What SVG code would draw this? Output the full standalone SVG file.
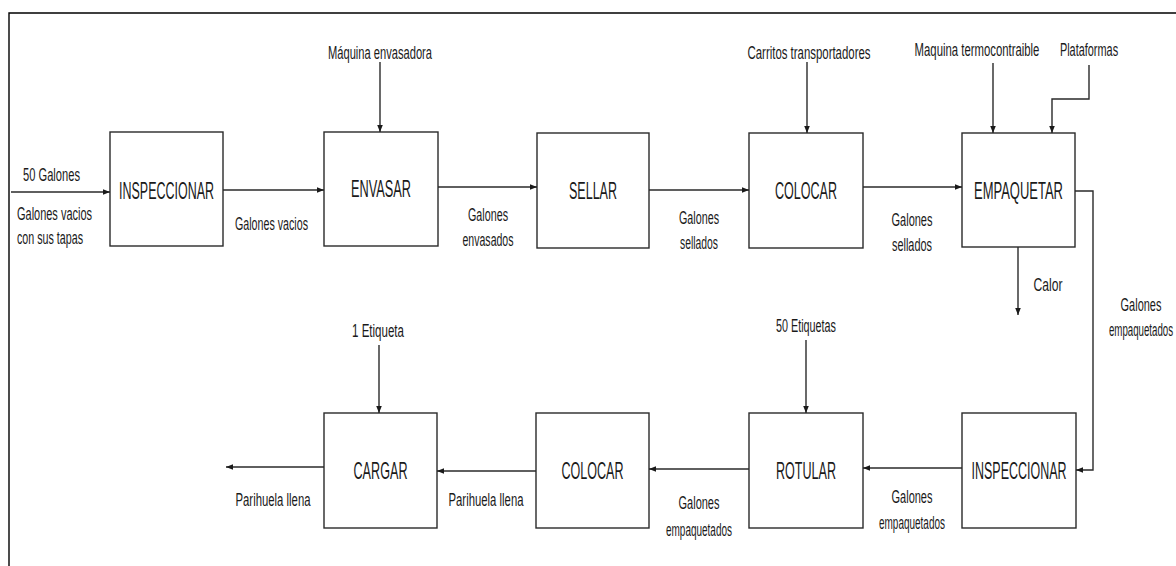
<svg xmlns="http://www.w3.org/2000/svg" width="1176" height="566" viewBox="0 0 1176 566">
<style>
.box{fill:#fff;stroke:#2a2a2a;stroke-width:1.4}
.frame{fill:none;stroke:#000;stroke-width:1.4}
.con{fill:none;stroke:#2a2a2a;stroke-width:1.4;marker-end:url(#ah)}
.t{font-family:"Liberation Sans",Arial,sans-serif;font-size:24px;fill:#1a1a1a;text-anchor:middle}
.s{font-family:"Liberation Sans",Arial,sans-serif;font-size:17.5px;fill:#1a1a1a;text-anchor:middle}
</style>
<defs>
<marker id="ah" viewBox="0 0 8 8" refX="8" refY="4" markerWidth="7" markerHeight="7" markerUnits="userSpaceOnUse" orient="auto">
<path d="M0,0.8 L8,4 L0,7.2 z" fill="#1a1a1a"/>
</marker>
</defs>
<rect width="1176" height="566" fill="#fff"/>
<path class="frame" d="M9,566 V13 H1176"/>

<g id="n_inspeccionar1"><rect class="box" x="110" y="132" width="113" height="114"/><text class="t" x="166.5" y="198.5" textLength="95" lengthAdjust="spacingAndGlyphs">INSPECCIONAR</text></g>
<g id="n_envasar"><rect class="box" x="324" y="132" width="114" height="114"/><text class="t" x="381" y="196.5" textLength="60" lengthAdjust="spacingAndGlyphs">ENVASAR</text></g>
<g id="n_sellar"><rect class="box" x="537" y="133" width="112" height="115"/><text class="t" x="593" y="198.5" textLength="48" lengthAdjust="spacingAndGlyphs">SELLAR</text></g>
<g id="n_colocar1"><rect class="box" x="749" y="133" width="114" height="115"/><text class="t" x="806" y="198.5" textLength="62" lengthAdjust="spacingAndGlyphs">COLOCAR</text></g>
<g id="n_empaquetar"><rect class="box" x="962" y="133" width="113" height="114"/><text class="t" x="1018.5" y="198.5" textLength="89" lengthAdjust="spacingAndGlyphs">EMPAQUETAR</text></g>
<g id="n_cargar"><rect class="box" x="324" y="413" width="113" height="115"/><text class="t" x="380.5" y="478.5" textLength="54" lengthAdjust="spacingAndGlyphs">CARGAR</text></g>
<g id="n_colocar2"><rect class="box" x="536" y="413" width="113" height="115"/><text class="t" x="592.5" y="478.5" textLength="62" lengthAdjust="spacingAndGlyphs">COLOCAR</text></g>
<g id="n_rotular"><rect class="box" x="749" y="413" width="114" height="115"/><text class="t" x="806" y="478.5" textLength="60" lengthAdjust="spacingAndGlyphs">ROTULAR</text></g>
<g id="n_inspeccionar2"><rect class="box" x="962" y="413" width="114" height="115"/><text class="t" x="1019" y="478.5" textLength="95" lengthAdjust="spacingAndGlyphs">INSPECCIONAR</text></g>

<g id="connectors">
<path class="con" d="M11,192 H110"/>
<path class="con" d="M223,190 H324"/>
<path class="con" d="M380,62 V132"/>
<path class="con" d="M438,187 H537"/>
<path class="con" d="M649,190 H749"/>
<path class="con" d="M807,62 V133"/>
<path class="con" d="M863,187 H962"/>
<path class="con" d="M993,63 V133"/>
<path class="con" d="M1089,65 V99 H1052 V133"/>
<path class="con" d="M1075,191 H1093 V470 H1076"/>
<path class="con" d="M1018,247 V315"/>
<path class="con" d="M962,468 H863"/>
<path class="con" d="M806,340 V413"/>
<path class="con" d="M749,469 H649"/>
<path class="con" d="M536,471 H437"/>
<path class="con" d="M379,345 V413"/>
<path class="con" d="M324,467 H226"/>
</g>

<g id="labels">
<text class="s" x="51.5" y="181" textLength="57" lengthAdjust="spacingAndGlyphs">50 Galones</text>
<text class="s" x="54.5" y="220" textLength="75" lengthAdjust="spacingAndGlyphs">Galones vacios</text>
<text class="s" x="50" y="244" textLength="66" lengthAdjust="spacingAndGlyphs">con sus tapas</text>
<text class="s" x="271.5" y="230" textLength="73" lengthAdjust="spacingAndGlyphs">Galones vacios</text>
<text class="s" x="380" y="59" textLength="104" lengthAdjust="spacingAndGlyphs">Máquina envasadora</text>
<text class="s" x="488" y="221" textLength="40" lengthAdjust="spacingAndGlyphs">Galones</text>
<text class="s" x="488" y="246" textLength="51" lengthAdjust="spacingAndGlyphs">envasados</text>
<text class="s" x="699" y="224" textLength="40" lengthAdjust="spacingAndGlyphs">Galones</text>
<text class="s" x="699" y="249" textLength="38" lengthAdjust="spacingAndGlyphs">sellados</text>
<text class="s" transform="translate(809,59) scale(0.6,1)" x="0" y="0" textLength="205" lengthAdjust="spacingAndGlyphs">Carritos transportadores</text>
<text class="s" x="912" y="226" textLength="41" lengthAdjust="spacingAndGlyphs">Galones</text>
<text class="s" x="912" y="251" textLength="40" lengthAdjust="spacingAndGlyphs">sellados</text>
<text class="s" transform="translate(977,56) scale(0.6,1)" x="0" y="0" textLength="208" lengthAdjust="spacingAndGlyphs">Maquina termocontraible</text>
<text class="s" transform="translate(1089,56) scale(0.6,1)" x="0" y="0" textLength="97" lengthAdjust="spacingAndGlyphs">Plataformas</text>
<text class="s" x="1048" y="291" textLength="29" lengthAdjust="spacingAndGlyphs">Calor</text>
<text class="s" transform="translate(1141,311) scale(0.6,1)" x="0" y="0" textLength="68" lengthAdjust="spacingAndGlyphs">Galones</text>
<text class="s" transform="translate(1141,336) scale(0.6,1)" x="0" y="0" textLength="107" lengthAdjust="spacingAndGlyphs">empaquetados</text>
<text class="s" x="806" y="332" textLength="60" lengthAdjust="spacingAndGlyphs">50 Etiquetas</text>
<text class="s" x="378" y="337" textLength="52" lengthAdjust="spacingAndGlyphs">1 Etiqueta</text>
<text class="s" x="912" y="503" textLength="41" lengthAdjust="spacingAndGlyphs">Galones</text>
<text class="s" x="912" y="529" textLength="66" lengthAdjust="spacingAndGlyphs">empaquetados</text>
<text class="s" x="699" y="509" textLength="41" lengthAdjust="spacingAndGlyphs">Galones</text>
<text class="s" x="699" y="536" textLength="66" lengthAdjust="spacingAndGlyphs">empaquetados</text>
<text class="s" x="486" y="506" textLength="75" lengthAdjust="spacingAndGlyphs">Parihuela llena</text>
<text class="s" x="273" y="506" textLength="75" lengthAdjust="spacingAndGlyphs">Parihuela llena</text>
</g>
</svg>
